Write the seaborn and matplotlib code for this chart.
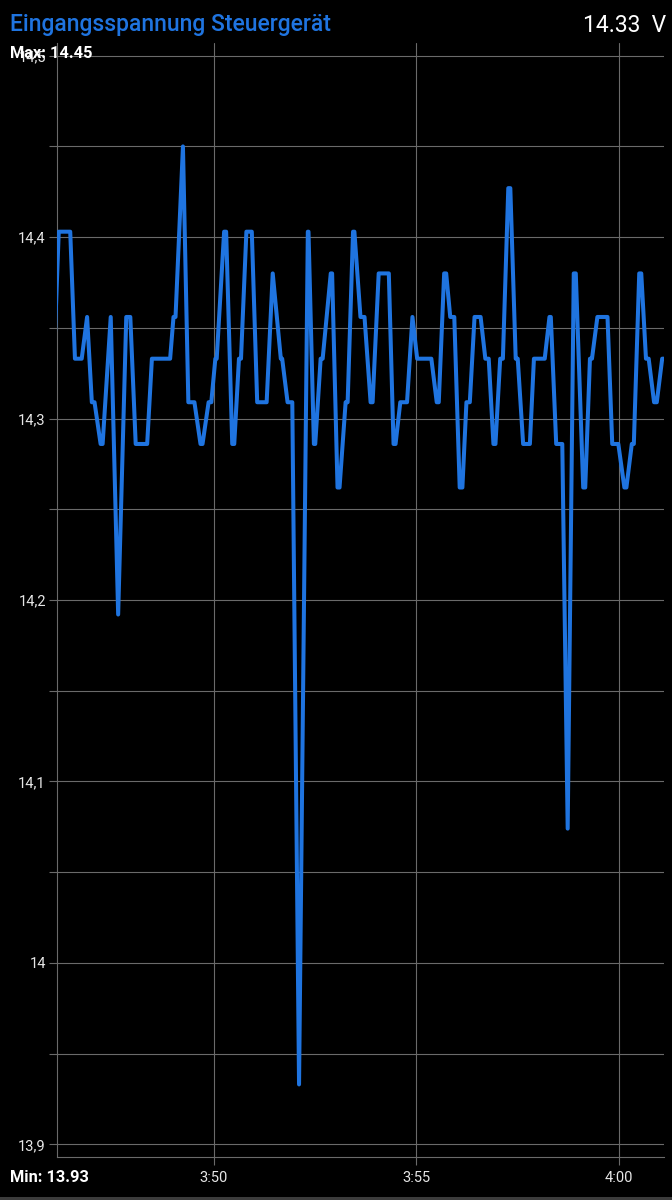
import matplotlib
matplotlib.use("Agg")
import matplotlib.pyplot as plt
import matplotlib.ticker as mticker
from matplotlib.patches import Rectangle
import seaborn as sns
import pandas as pd

# sample times in seconds after 3:46:00
seconds = [3, 10, 27, 34, 44, 52, 59, 63, 72, 75,
           87, 98, 110, 116, 124, 141, 148, 175, 180, 183,
           194, 202, 211, 220, 223, 232, 236, 242, 244, 255,
           258, 267, 270, 277, 280, 288, 296, 304, 318, 327,
           339, 341, 349, 356, 366, 379, 380, 388, 390, 398,
           401, 413, 415, 423, 426, 435, 438, 446, 448, 457,
           463, 472, 475, 484, 499, 506, 509, 516, 526, 534,
           541, 562, 570, 573, 581, 584, 590, 596, 604, 608,
           614, 619, 626, 635, 642, 647, 654, 657, 664, 668,
           676, 679, 687, 690, 698, 708, 714, 730, 737, 739,
           747, 756, 764, 773, 776, 787, 790, 797, 800, 808,
           823, 830, 839, 848, 851, 859, 862, 870, 873, 880,
           884, 892, 896, 904, 907]

volts = [14.333, 14.403, 14.403, 14.333, 14.333, 14.356, 14.309, 14.309, 14.286, 14.286,
         14.356, 14.192, 14.356, 14.356, 14.286, 14.286, 14.333, 14.333, 14.356, 14.356,
         14.450, 14.309, 14.309, 14.286, 14.286, 14.309, 14.309, 14.333, 14.333, 14.403,
         14.403, 14.286, 14.286, 14.333, 14.333, 14.403, 14.403, 14.309, 14.309, 14.380,
         14.333, 14.333, 14.309, 14.309, 13.933, 14.403, 14.403, 14.286, 14.286, 14.333,
         14.333, 14.380, 14.380, 14.262, 14.262, 14.309, 14.309, 14.403, 14.403, 14.356,
         14.356, 14.309, 14.309, 14.380, 14.380, 14.286, 14.286, 14.309, 14.309, 14.356,
         14.333, 14.333, 14.309, 14.309, 14.380, 14.380, 14.356, 14.356, 14.262, 14.262,
         14.309, 14.309, 14.356, 14.356, 14.333, 14.333, 14.286, 14.286, 14.333, 14.333,
         14.427, 14.427, 14.333, 14.333, 14.286, 14.286, 14.333, 14.333, 14.356, 14.356,
         14.286, 14.286, 14.074, 14.380, 14.380, 14.262, 14.262, 14.333, 14.333, 14.356,
         14.356, 14.286, 14.286, 14.262, 14.262, 14.286, 14.286, 14.380, 14.380, 14.333,
         14.333, 14.309, 14.309, 14.333, 14.333]

title = "Eingangsspannung Steuergerät"
current_text = "14.33  V"
max_text = "Max: 14.45"
min_text = "Min: 13.93"

x_ticks = [240, 540, 840]   # 3:50, 3:55, 4:00
y_ticks = [13.9, 13.95, 14.0, 14.05, 14.1, 14.15, 14.2, 14.25, 14.3, 14.35, 14.4, 14.45, 14.5]

df = pd.DataFrame({"t": seconds, "v": volts})

sns.set_style("dark", {"axes.facecolor": "black", "figure.facecolor": "black"})
plt.rcParams['font.family'] = ['Roboto', 'DejaVu Sans']

W, H = 672, 1200
fig = plt.figure(figsize=(W / 100, H / 100), dpi=100, facecolor="black")
ax = fig.add_axes([57 / W, 43 / H, (664 - 57) / W, (1157 - 43) / H])
ax.set_facecolor("black")

grid_col = "#6a6a6a"
blue = "#1f74e0"

sns.lineplot(data=df, x="t", y="v", ax=ax, color=blue, linewidth=2.9,
             solid_joinstyle="round", solid_capstyle="round", zorder=3)

ax.set_xlim(7.4, 906.7)
ax.set_ylim(13.893, 14.507)
ax.set_xticks(x_ticks)
ax.set_yticks(y_ticks)


def fmt_time(t, pos):
    total = 3 * 3600 + 46 * 60 + int(round(t))
    return f"{total // 3600}:{(total % 3600) // 60:02d}"


def fmt_volt(v, pos):
    if abs(v * 10 - round(v * 10)) > 1e-6:
        return ""
    s = f"{v:.1f}".rstrip("0").rstrip(".")
    return s.replace(".", ",")


ax.xaxis.set_major_formatter(mticker.FuncFormatter(fmt_time))
ax.yaxis.set_major_formatter(mticker.FuncFormatter(fmt_volt))

ax.grid(True, color=grid_col, linewidth=0.8)
ax.set_axisbelow(True)
ax.tick_params(axis="both", colors=grid_col, labelcolor="#e6e6e6", labelsize=10.5,
               length=6, width=0.8)
ax.tick_params(axis="y", pad=2, left=True)
ax.tick_params(axis="x", pad=4, bottom=True)
for side in ["top", "right"]:
    ax.spines[side].set_visible(False)
for side in ["left", "bottom"]:
    ax.spines[side].set_visible(True)
    ax.spines[side].set_color(grid_col)
    ax.spines[side].set_linewidth(0.8)
ax.set_xlabel("")
ax.set_ylabel("")

fig.text(10 / W, 1 - 25 / H, title, color=blue, fontsize=16.5, weight="medium",
         ha="left", va="center")
fig.text(666 / W, 1 - 25 / H, current_text, color="white", fontsize=16.5,
         ha="right", va="center")
fig.text(10 / W, 1 - 53 / H, max_text, color="white", fontsize=11.8, weight="bold",
         ha="left", va="center")
fig.text(10 / W, 1 - 1178 / H, min_text, color="white", fontsize=11.8, weight="bold",
         ha="left", va="center")

fig.patches.append(Rectangle((0, 0), 1, 3 / H, transform=fig.transFigure,
                             facecolor="#3c3c3c", edgecolor="none"))

fig.savefig("out.png", dpi=100, facecolor="black")
